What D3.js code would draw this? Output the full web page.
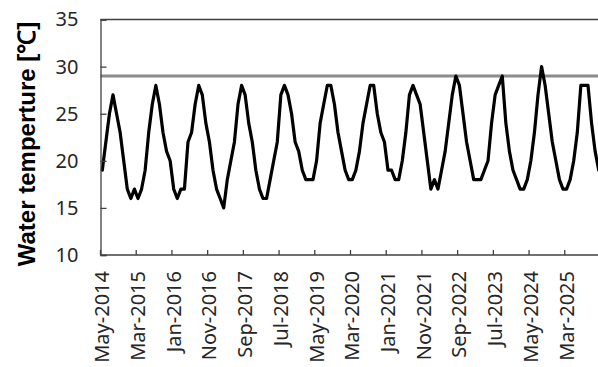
<!DOCTYPE html>
<html>
<head>
<meta charset="utf-8">
<script src="https://cdn.jsdelivr.net/npm/d3@7"></script>
<style>
  body { margin: 0; background: #fff; }
  svg { display: block; }
</style>
</head>
<body>
<svg id="chart" width="598" height="367"></svg>
<script>
const formatMonth = d3.timeFormat("%b-%Y");
// monthly categories, May-2014 .. Dec-2025
const months = d3.timeMonth.range(new Date(2014, 4, 1), new Date(2026, 0, 1)).map(formatMonth);

// water temperature per month
const waterTemp = [
  19, 22, 25, 27, 25, 23, 20, 17,              // 2014
  16, 17, 16, 17, 19, 23, 26, 28, 26, 23, 21, 20, // 2015
  17, 16, 17, 17, 22, 23, 26, 28, 27, 24, 22, 19, // 2016
  17, 16, 15, 18, 20, 22, 26, 28, 27, 24, 22, 19, // 2017
  17, 16, 16, 18, 20, 22, 27, 28, 27, 25, 22, 21, // 2018
  19, 18, 18, 18, 20, 24, 26, 28, 28, 26, 23, 21, // 2019
  19, 18, 18, 19, 21, 24, 26, 28, 28, 25, 23, 22, // 2020
  19, 19, 18, 18, 20, 23, 27, 28, 27, 26, 23, 20, // 2021
  17, 18, 17, 19, 21, 24, 27, 29, 28, 25, 22, 20, // 2022
  18, 18, 18, 19, 20, 24, 27, 28, 29, 24, 21, 19, // 2023
  18, 17, 17, 18, 20, 23, 27, 30, 28, 25, 22, 20, // 2024
  18, 17, 17, 18, 20, 23, 28, 28, 28, 24, 21, 19  // 2025
];

const tickLabels = [
  "May-2014", "Mar-2015", "Jan-2016", "Nov-2016", "Sep-2017", "Jul-2018", "May-2019",
  "Mar-2020", "Jan-2021", "Nov-2021", "Sep-2022", "Jul-2023", "May-2024", "Mar-2025"
];
const yTicks = [10, 15, 20, 25, 30, 35];
const referenceTemp = 29;

const PLOT = { left: 100.5, right: 600.5, top: 19.5, bottom: 255 };
const AXIS_COLOR = "#404040";
const TEXT_COLOR = "#262626";

const svg = d3.select("#chart");

const x = d3.scaleBand().domain(months).range([PLOT.left, PLOT.right]).padding(0);
const y = d3.scaleLinear().domain([10, 35]).range([PLOT.bottom, PLOT.top]);
const half = x.bandwidth() / 2;

// reference line
svg.append("line")
  .attr("x1", PLOT.left)
  .attr("x2", PLOT.right)
  .attr("y1", y(referenceTemp))
  .attr("y2", y(referenceTemp))
  .attr("stroke", "#8c8c8c")
  .attr("stroke-width", 3);

// temperature line
const line = d3.line()
  .x((d, i) => x(months[i]) + half)
  .y((d) => y(d));

svg.append("path")
  .datum(waterTemp)
  .attr("d", line)
  .attr("fill", "none")
  .attr("stroke", "#000")
  .attr("stroke-width", 3.2)
  .attr("stroke-linejoin", "round")
  .attr("stroke-linecap", "round");

// y axis
const yAxis = d3.axisLeft(y).tickValues(yTicks).tickSize(-6).tickPadding(22);
svg.append("g")
  .attr("transform", `translate(${PLOT.left},0)`)
  .call(yAxis)
  .call((g) => g.select(".domain").attr("stroke", AXIS_COLOR).attr("stroke-width", 1.3))
  .call((g) => g.selectAll(".tick line").attr("stroke", AXIS_COLOR).attr("stroke-width", 1.3))
  .call((g) => g.selectAll(".tick text")
    .attr("fill", TEXT_COLOR)
    .style("font-family", "'Noto Sans', sans-serif")
    .style("font-size", "20px"));

// top border and bottom axis
svg.append("line")
  .attr("x1", PLOT.left).attr("x2", PLOT.right)
  .attr("y1", PLOT.top).attr("y2", PLOT.top)
  .attr("stroke", AXIS_COLOR).attr("stroke-width", 1.6);

svg.append("line")
  .attr("x1", PLOT.left).attr("x2", PLOT.right)
  .attr("y1", PLOT.bottom).attr("y2", PLOT.bottom)
  .attr("stroke", AXIS_COLOR).attr("stroke-width", 1.3);

// x ticks (on category boundaries) and rotated labels
const xTicks = svg.append("g")
  .selectAll("g")
  .data(tickLabels)
  .join("g");

xTicks.append("line")
  .attr("x1", (d) => x(d))
  .attr("x2", (d) => x(d))
  .attr("y1", PLOT.bottom)
  .attr("y2", PLOT.bottom - 5)
  .attr("stroke", AXIS_COLOR)
  .attr("stroke-width", 1.3);

xTicks.append("text")
  .attr("transform", (d) => `translate(${x(d) + half},${PLOT.bottom + 16}) rotate(-90)`)
  .attr("text-anchor", "end")
  .attr("dy", "0.35em")
  .attr("fill", TEXT_COLOR)
  .style("font-family", "'Noto Sans', sans-serif")
  .style("font-size", "20px")
  .text((d) => d);

// y axis title
svg.append("text")
  .attr("transform", "translate(35,144) rotate(-90)")
  .attr("text-anchor", "middle")
  .attr("fill", "#000")
  .style("font-family", "'Liberation Sans', Arial, sans-serif")
  .style("font-weight", "bold")
  .style("font-size", "24px")
  .text("Water temperture [℃]");
</script>
</body>
</html>
